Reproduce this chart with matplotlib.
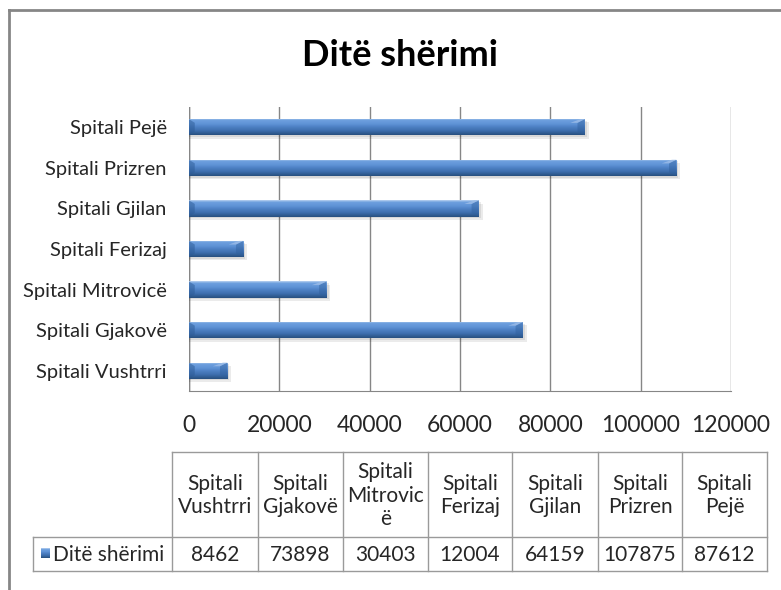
import numpy as np
import matplotlib
matplotlib.use('Agg')
import matplotlib.pyplot as plt
from matplotlib.colors import LinearSegmentedColormap
from matplotlib.patches import Rectangle, Polygon
from matplotlib.lines import Line2D

# Data
hospitals = ['Spitali Vushtrri', 'Spitali Gjakovë', 'Spitali Mitrovicë',
             'Spitali Ferizaj', 'Spitali Gjilan', 'Spitali Prizren', 'Spitali Pejë']
header_labels = ['Spitali\nVushtrri', 'Spitali\nGjakovë', 'Spitali\nMitrovic\në',
                 'Spitali\nFerizaj', 'Spitali\nGjilan', 'Spitali\nPrizren', 'Spitali\nPejë']
days = [8462, 73898, 30403, 12004, 64159, 107875, 87612]
series_name = 'Ditë shërimi'
title = 'Ditë shërimi'
xticks = [0, 20000, 40000, 60000, 80000, 100000, 120000]

W, H = 781, 590
FONT = ['Lato', 'DejaVu Sans']
plt.rcParams['font.family'] = FONT
GRAY = '#868686'
TXT = '#262626'
FS = 15

# bar gradient (top -> bottom)
bar_cmap = LinearSegmentedColormap.from_list('bar', [
    (0.0, '#b9d1f0'), (0.12, '#6d9fde'), (0.35, '#5f93d6'),
    (0.5, '#4f82c6'), (0.75, '#3d6ead'), (1.0, '#27507f')])


def px(x0, y0, w, h):
    return [x0 / W, 1 - (y0 + h) / H, w / W, h / H]


def draw_bar(ax, y, val, h):
    # soft shadow
    ax.add_patch(Rectangle((0, y - h / 2 - 0.08), val + 900, h, color='#000000',
                           alpha=0.08, lw=0, zorder=2))
    ax.add_patch(Rectangle((0, y - h / 2 - 0.04), val + 500, h, color='#000000',
                           alpha=0.08, lw=0, zorder=2))
    grad = np.linspace(0, 1, 64).reshape(-1, 1)
    im = ax.imshow(grad, cmap=bar_cmap, aspect='auto', origin='upper',
                   extent=[0, val, y - h / 2, y + h / 2], zorder=3)
    clip = Rectangle((0, y - h / 2), val, h, transform=ax.transData)
    im.set_clip_path(clip)
    # bevelled ends
    bw = 1600
    ax.add_patch(Polygon([(val, y + h / 2), (val - bw, y + h / 2 - 0.09),
                          (val - bw, y - h / 2 + 0.09), (val, y - h / 2)],
                         closed=True, color='#2f5f9c', lw=0, zorder=4, alpha=0.45))
    ax.add_patch(Polygon([(val, y + h / 2), (val - bw, y + h / 2 - 0.09),
                          (val - 2 * bw, y + h / 2 - 0.09), (val - bw * 0.6, y + h / 2)],
                         closed=True, color='#9dbde8', lw=0, zorder=4, alpha=0.8))
    ax.add_patch(Polygon([(0, y - h / 2), (bw * 0.8, y - h / 2 + 0.09),
                          (bw * 0.8, y + h / 2 - 0.09), (0, y + h / 2)],
                         closed=True, color='#2c5a94', lw=0, zorder=4, alpha=0.5))


fig = plt.figure(figsize=(W / 100, H / 100), dpi=100)

# chart frame (top and left edge visible)
fig.add_artist(Line2D([9 / W, 1], [1 - 10 / H, 1 - 10 / H], color=GRAY, lw=2,
                      transform=fig.transFigure))
fig.add_artist(Line2D([9 / W, 9 / W], [1 - 10 / H, 0], color=GRAY, lw=2,
                      transform=fig.transFigure))

fig.text(400 / W, 1 - 55 / H, title, ha='center', va='center', fontsize=26,
         fontweight='bold', color='black')

ax = fig.add_axes(px(189, 107, 542, 284))
y = np.arange(len(hospitals))
for yi, v in zip(y, days):
    draw_bar(ax, yi, v, 0.40)

ax.set_xlim(0, 120000)
ax.set_ylim(-0.5, len(hospitals) - 0.5)
ax.set_xticks(xticks)
ax.set_xticklabels([str(t) for t in xticks])
ax.set_yticks(y)
ax.set_yticklabels(hospitals)
ax.tick_params(axis='both', length=0, colors=TXT)
ax.tick_params(axis='y', pad=16, labelsize=14.5)
ax.tick_params(axis='x', pad=17, labelsize=16.5)
ax.grid(axis='x', color=GRAY, lw=1)
ax.set_axisbelow(True)
for s in ['top', 'right', 'left']:
    ax.spines[s].set_visible(False)
ax.spines['bottom'].set_color(GRAY)
ax.axvline(0, color=GRAY, lw=1, zorder=1)

# data table
tx = [33, 172, 258, 343, 428, 512, 598, 682, 767]
ty = [452, 537, 571]
tab = fig.add_axes([0, 0, 1, 1], facecolor='none')
tab.axis('off')
lc = '#9a9a9a'
tab.plot([tx[1], tx[-1]], [ty[0], ty[0]], color=lc, lw=1)
tab.plot([tx[0], tx[-1]], [ty[1], ty[1]], color=lc, lw=1)
tab.plot([tx[0], tx[-1]], [ty[2], ty[2]], color=lc, lw=1)
tab.plot([tx[0], tx[0]], [ty[1], ty[2]], color=lc, lw=1)
for x in tx[1:]:
    tab.plot([x, x], [ty[0], ty[2]], color=lc, lw=1)
for i, (lab, v) in enumerate(zip(header_labels, days)):
    cx = (tx[i + 1] + tx[i + 2]) / 2
    tab.text(cx, (ty[0] + ty[1]) / 2 + 1, lab, ha='center', va='center',
             fontsize=FS, color=TXT, linespacing=1.2)
    tab.text(cx, (ty[1] + ty[2]) / 2 + 1, str(v), ha='center', va='center',
             fontsize=FS, color=TXT)
# legend key
key = np.linspace(0, 1, 32).reshape(-1, 1)
tab.imshow(key, cmap=bar_cmap, extent=[41, 50, 558, 548], aspect='auto', zorder=3)
tab.set_xlim(0, W)
tab.set_ylim(H, 0)
tab.text(53, (ty[1] + ty[2]) / 2 + 1, series_name, ha='left', va='center',
         fontsize=FS, color=TXT)

fig.savefig('out.png', dpi=100)
